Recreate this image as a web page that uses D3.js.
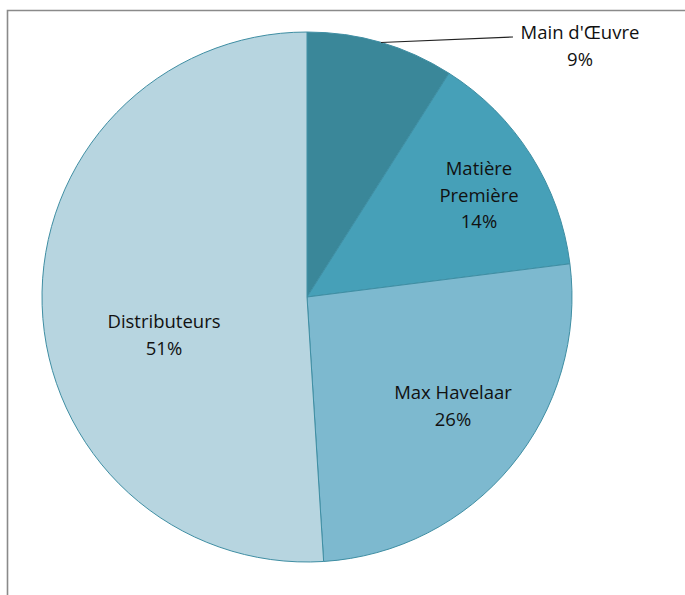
<!DOCTYPE html>
<html>
<head>
<meta charset="utf-8">
<script src="https://cdn.jsdelivr.net/npm/d3@7"></script>
<style>
  body { margin: 0; background: #fff; }
  text { font-family: "Open Sans", sans-serif; font-size: 18.5px; fill: #111; }
</style>
</head>
<body>
<div id="chart"></div>
<script>
// chart data
const categories = ["Main d'Œuvre", "Matière Première", "Max Havelaar", "Distributeurs"];
const values = [9, 14, 26, 51];
const labelLines = [["Main d'Œuvre", "9%"], ["Matière", "Première", "14%"], ["Max Havelaar", "26%"], ["Distributeurs", "51%"]];
const colors = ["#3a8799", "#46a0b8", "#7db9cf", "#b7d5e0"];

let config = {
  width: 685,
  height: 595,
  cx: 307,
  cy: 297,
  radius: 265,
  lineHeight: 26.5,
  // first-line anchor of each label, relative to pie centre
  labelPos: [[273, -258], [172, -122], [146, 102], [-143, 31]],
  leaderEnd: [206, -260]
};

let svg = d3.select("#chart").append("svg")
  .attr("width", config.width)
  .attr("height", config.height);

// chart frame
svg.append("path")
  .attr("d", "M7.5,600 V10.5 H690")
  .attr("fill", "none")
  .attr("stroke", "#8a8a8a")
  .attr("stroke-width", 1.6);

let pie = d3.pie().sort(null).value(d => d);
let arcs = pie(values);
let arc = d3.arc().innerRadius(0).outerRadius(config.radius);

let g = svg.append("g").attr("transform", `translate(${config.cx},${config.cy})`);

g.selectAll("path.slice")
  .data(arcs)
  .enter()
  .append("path")
  .attr("class", "slice")
  .attr("d", arc)
  .attr("fill", (d, i) => colors[i])
  .attr("stroke", "#3f8ea3")
  .attr("stroke-width", 1);

// leader line for the small slice
let mid0 = (arcs[0].startAngle + arcs[0].endAngle) / 2;
g.append("path")
  .attr("d", `M${Math.sin(mid0) * config.radius},${-Math.cos(mid0) * config.radius} L${config.leaderEnd[0]},${config.leaderEnd[1]}`)
  .attr("fill", "none")
  .attr("stroke", "#222")
  .attr("stroke-width", 1.2);

labelLines.forEach((lines, i) => {
  let p = config.labelPos[i];
  let t = g.append("text")
    .attr("text-anchor", "middle")
    .attr("x", p[0])
    .attr("y", p[1]);
  lines.forEach((s, j) => {
    t.append("tspan")
      .attr("x", p[0])
      .attr("dy", j === 0 ? 0 : config.lineHeight)
      .text(s);
  });
});
</script>
</body>
</html>
